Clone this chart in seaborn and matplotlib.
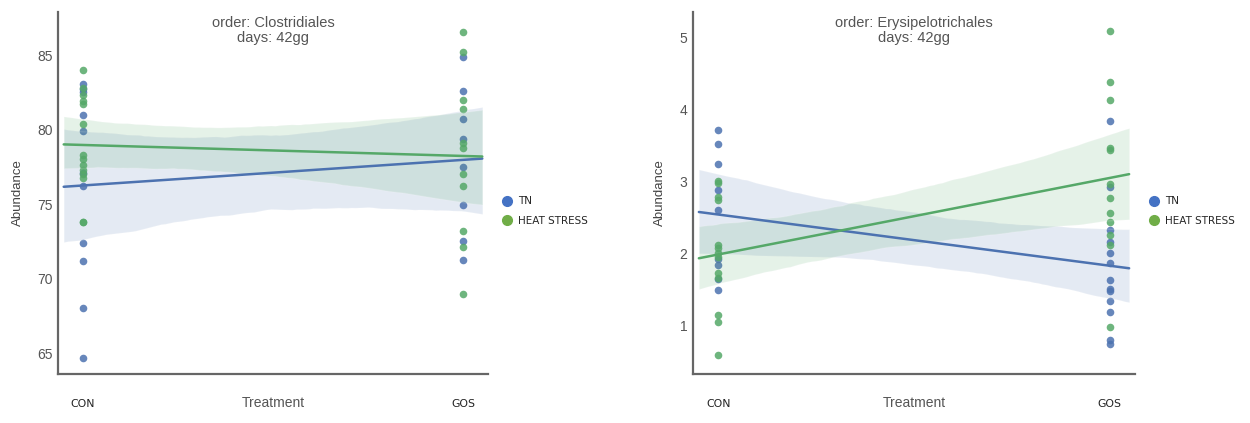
import pandas as pd
import numpy as np
import matplotlib.pyplot as plt
import seaborn as sns
from matplotlib.lines import Line2D

groups = ['TN', 'HEAT STRESS']
treatments = ['CON', 'GOS']

# Clostridiales abundance
clos_tn_con = [83.1, 82.7, 82.5, 81.0, 79.9, 77.1, 76.2, 72.4, 71.2, 68.0, 64.7]
clos_tn_gos = [84.9, 82.6, 80.7, 79.4, 77.5, 74.95, 72.5, 71.25]
clos_hs_con = [84.0, 82.8, 82.3, 81.9, 81.7, 80.4, 78.3, 78.0, 77.6, 77.3, 77.0, 76.75, 73.8, 73.8]
clos_hs_gos = [86.55, 85.2, 82.0, 81.4, 79.1, 78.8, 77.0, 76.2, 73.2, 72.15, 69.0]

# Erysipelotrichales abundance
ery_tn_con = [3.72, 3.52, 3.24, 2.88, 2.61, 1.92, 1.84, 1.64, 1.49]
ery_tn_gos = [3.84, 2.93, 2.32, 2.16, 2.0, 1.86, 1.63, 1.50, 1.47, 1.33, 1.18, 0.80, 0.74]
ery_hs_con = [3.01, 2.98, 2.78, 2.74, 2.12, 2.08, 2.0, 1.95, 1.72, 1.65, 1.14, 1.05, 0.58]
ery_hs_gos = [5.09, 4.39, 4.14, 3.46, 3.44, 2.97, 2.77, 2.56, 2.43, 2.25, 2.12, 0.97]

clos_ticks = [65, 70, 75, 80, 85]
ery_ticks = [1, 2, 3, 4, 5]


def make_df(tn_con, tn_gos, hs_con, hs_gos):
    rows = []
    for grp, con, gos in [('TN', tn_con, tn_gos), ('HEAT STRESS', hs_con, hs_gos)]:
        for v in con:
            rows.append((grp, 0, v))
        for v in gos:
            rows.append((grp, 1, v))
    return pd.DataFrame(rows, columns=['group', 'x', 'Abundance'])


clos = make_df(clos_tn_con, clos_tn_gos, clos_hs_con, clos_hs_gos)
ery = make_df(ery_tn_con, ery_tn_gos, ery_hs_con, ery_hs_gos)

sns.set_style('white')
plt.rcParams['font.family'] = ['DejaVu Sans']

point_cols = {'TN': '#4C72B0', 'HEAT STRESS': '#55A868'}
legend_cols = {'TN': '#4472C4', 'HEAT STRESS': '#70AD47'}

fig = plt.figure(figsize=(12.5, 4.23), dpi=100)
W, H = 1250, 423
ax1 = fig.add_axes([58 / W, 49 / H, 430 / W, 362 / H])
ax2 = fig.add_axes([693 / W, 49 / H, 442 / W, 362 / H])


def panel(ax, df, title, ticks, ylim, ylab_x, leg_x):
    for grp in groups:
        sub = df[df['group'] == grp]
        sns.regplot(data=sub, x='x', y='Abundance', ax=ax, truncate=False,
                    color=point_cols[grp], seed=3,
                    scatter_kws={'s': 30, 'alpha': 0.85, 'linewidths': 0},
                    line_kws={'lw': 1.8})
    ax.set_xlim(-0.065, 1.065)
    ax.set_ylim(*ylim)
    ax.set_yticks(ticks)
    ax.set_yticklabels([str(t) for t in ticks], family='Liberation Sans',
                       fontsize=10, color='#555555')
    ax.set_xticks([0, 1])
    ax.set_xticklabels(treatments, fontsize=7.8, color='#222222')
    ax.tick_params(axis='x', pad=18, length=0)
    ax.tick_params(axis='y', pad=4, length=0)
    ax.set_xlabel('Treatment', family='Liberation Sans', fontsize=10, color='#555555')
    ax.xaxis.set_label_coords(0.5, -22 / 362)
    ax.set_ylabel('Abundance', family='Liberation Sans', fontsize=9.5, color='#444444')
    ax.yaxis.set_label_coords(ylab_x, 0.5)
    ax.text(0.5, 0.99, title, transform=ax.transAxes, ha='center', va='top',
            family='Liberation Sans', fontsize=10.5, color='#555555', linespacing=1.15)
    for s in ['top', 'right']:
        ax.spines[s].set_visible(False)
    for s in ['left', 'bottom']:
        ax.spines[s].set_color('#666666')
        ax.spines[s].set_linewidth(1.6)
    handles = [Line2D([], [], marker='o', ls='', ms=7, color=legend_cols[g]) for g in groups]
    ax.legend(handles, groups, loc='center left', bbox_to_anchor=(leg_x, 0.45),
              frameon=False, fontsize=7.5, handletextpad=0.1, labelspacing=0.95,
              borderaxespad=0)


panel(ax1, clos, 'order: Clostridiales\ndays: 42gg', clos_ticks, (63.6, 87.9), -34 / 430, 1.01)
panel(ax2, ery, 'order: Erysipelotrichales\ndays: 42gg', ery_ticks, (0.32, 5.36), -27 / 442, 1.01)

fig.savefig('out.png', dpi=100)
